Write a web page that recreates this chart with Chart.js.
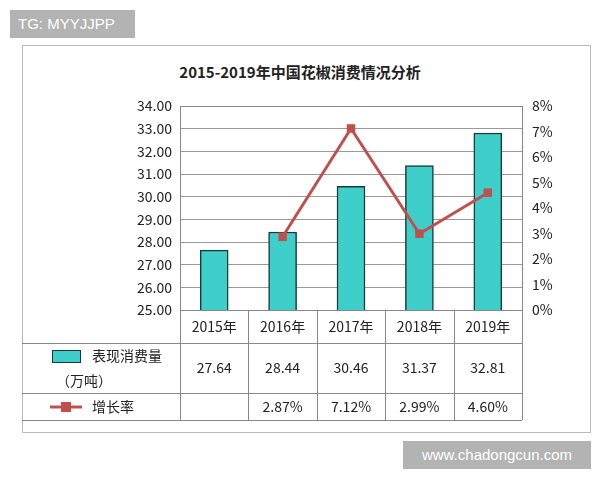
<!DOCTYPE html>
<html><head><meta charset="utf-8">
<script src="https://cdn.jsdelivr.net/npm/chart.js@4"></script>
<style>
body{margin:0;width:600px;height:480px;background:#fff;position:relative;font-family:"Noto Sans CJK SC",sans-serif;overflow:hidden}
#box{position:absolute;left:22px;top:45px;width:567px;height:386px;border:1px solid #bbb}
#c{position:absolute;left:0;top:0}
.wm{position:absolute;background:#b3b3b3;color:#fff;font-family:Arial,"Liberation Sans",sans-serif;font-size:15px;line-height:28px;padding:0 8px}
#title{position:absolute;left:0;width:600px;top:61px;text-align:center;font-weight:bold;font-size:15px;color:#222}
</style></head><body>
<div id="box"></div>
<div id="title">2015-2019年中国花椒消费情况分析</div>
<canvas id="c" width="600" height="480"></canvas>
<div class="wm" style="left:10px;top:10px;width:109px">TG: MYYJJPP</div>
<div class="wm" style="left:403px;top:441px;width:172px;text-align:center">www.chadongcun.com</div>
<script>
const categories=["2015年","2016年","2017年","2018年","2019年"];
const consumption=[27.64,28.44,30.46,31.37,32.81];
const growth=[null,2.87,7.12,2.99,4.60];
const growthLabels=["","2.87%","7.12%","2.99%","4.60%"];
const seriesNames=["表现消费量","增长率"];
const teal="#3ecfcb", red="#c0504d";
const F='"Noto Sans CJK SC","DejaVu Sans",sans-serif';
const tablePlugin={id:"tbl",afterDraw(ch){
 const c=ch.ctx,a=ch.chartArea,x=ch.scales.x;
 const L=22,R=a.right,rows=[a.bottom,343,393,420];
 c.save();c.strokeStyle="#888";c.lineWidth=1;
 c.strokeRect(a.left+.5,a.top+.5,a.right-a.left,a.bottom-a.top);
 rows.forEach((y,i)=>{c.beginPath();c.moveTo(i==0?a.left:L,y+.5);c.lineTo(R,y+.5);c.stroke();});
 const cw=(a.right-a.left)/categories.length;
 for(let i=0;i<=categories.length;i++){const xx=Math.round(a.left+i*cw)+.5;c.beginPath();c.moveTo(xx,a.bottom);c.lineTo(xx,rows[3]);c.stroke();}
 c.fillStyle="#222";c.font="14px "+F;c.textAlign="center";c.textBaseline="middle";
 categories.forEach((t,i)=>{const xx=x.getPixelForValue(i);
  c.fillText(t,xx,(rows[0]+rows[1])/2);
  c.fillText(consumption[i].toFixed(2),xx,(rows[1]+rows[2])/2);
  c.fillText(growthLabels[i],xx,(rows[2]+rows[3])/2);});
 c.fillStyle=teal;c.strokeStyle="#1a3a3a";c.fillRect(52,350,28,12);c.strokeRect(52.5,350.5,28,12);
 c.fillStyle="#222";c.textAlign="left";c.fillText(seriesNames[0],92,356);c.fillText("（万吨）",56,381);
 c.strokeStyle=red;c.lineWidth=3;c.beginPath();c.moveTo(50,407);c.lineTo(82,407);c.stroke();
 c.fillStyle=red;c.fillRect(61,402,10,10);
 c.fillStyle="#222";c.fillText(seriesNames[1],92,407);
 c.restore();}};
new Chart(document.getElementById("c"),{
 data:{labels:categories,datasets:[
  {type:"line",data:growth,yAxisID:"y1",borderColor:red,backgroundColor:red,borderWidth:3,pointStyle:"rect",pointRadius:6,pointBorderWidth:0,order:0},
  {type:"bar",data:consumption,yAxisID:"y",backgroundColor:teal,borderColor:"#1a3a3a",borderWidth:1.5,barThickness:28,order:1}]},
 options:{responsive:false,animation:false,devicePixelRatio:1,
  layout:{padding:{left:22,right:10,top:106,bottom:170}},
  plugins:{legend:{display:false},tooltip:{enabled:false}},
  scales:{
   x:{display:false},
   y:{min:25,max:34,ticks:{stepSize:1,callback:v=>v.toFixed(2),color:"#222",font:{size:14,family:F},padding:8},grid:{color:"#999",drawTicks:false},border:{display:false},afterFit:s=>{s.width=158}},
   y1:{position:"right",min:0,max:8,ticks:{stepSize:1,callback:v=>v+"%",color:"#222",font:{size:14,family:F},padding:10},grid:{display:false,drawTicks:false},border:{display:false},afterFit:s=>{s.width=68}}
  }},
 plugins:[tablePlugin]});
</script></body></html>
